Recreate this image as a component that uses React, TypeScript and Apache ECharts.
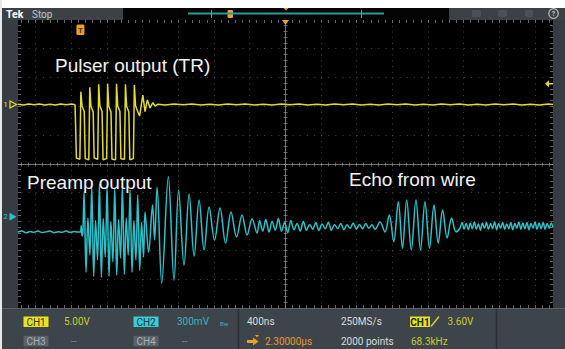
import React, { useEffect, useRef } from "react";
import * as echarts from "echarts";

// ---------------- scope settings ----------------
const nsPerDiv = 400;           // 400ns / div
const centerNs = 2300;          // horizontal position 2.30000 µs (trigger -> centre)
const screenStartNs = -700;
const screenEndNs = 5300;
const halfDivsY = 5;
const ch1VPerDiv = 5;           // CH1 5.00V
const ch1OffsetDiv = 2.066;
const ch2MvPerDiv = 300;        // CH2 300mV
const ch2OffsetDiv = -1.83;
const trigLevelV = 3.6;

// ---------------- CH1 (pulser), [time ns, volts] ----------------
const ch1Trace: [number, number][] = [
  [-700, 0.05], [-640, -0.1], [-580, 0.1], [-520, -0.05], [-460, 0.1], [-400, -0.1],
  [-340, 0.05], [-280, -0.1], [-220, 0.1], [-160, -0.05], [-100, 0.08], [-60, -0.05],
  [-54, 0], [-45, -9.3],
  [-6, -9.5], [5, 2.2], [18, -0.2], [43, -1.2], [54, -9.4],
  [94, -9.6], [105, 3.0], [118, -0.3], [143, -1.3], [154, -9.3],
  [194, -9.5], [205, 3.5], [218, -0.2], [243, -1.2], [254, -9.6],
  [294, -9.4], [305, 3.6], [318, -0.3], [343, -1.3], [354, -9.5],
  [394, -9.6], [405, 3.6], [418, -0.2], [443, -1.2], [454, -9.4],
  [494, -9.5], [505, 3.5], [518, -0.3], [543, -1.3], [554, -9.6],
  [594, -9.4], [605, 3.4], [618, -0.2], [643, -1.2],
  [664, -2.0], [700, 1.65], [725, -1.25], [751, 0.78], [781, -0.6], [812, 0.31], [837, -0.26], [871, 0.05],
  [950, -0.08], [1050, 0.1], [1150, -0.05], [1250, 0.08], [1350, -0.1], [1450, 0.05], [1550, -0.08],
  [1650, 0.1], [1750, -0.05], [1850, 0.08], [1950, -0.1], [2050, 0.06], [2150, -0.08], [2250, 0.1],
  [2350, -0.06], [2450, 0.08], [2550, -0.1], [2650, 0.05], [2750, -0.08], [2850, 0.1], [2950, -0.05],
  [3050, 0.08], [3150, -0.1], [3250, 0.06], [3350, -0.08], [3450, 0.1], [3550, -0.05], [3650, 0.08],
  [3750, -0.1], [3850, 0.05], [3950, -0.08], [4050, 0.1], [4150, -0.06], [4250, 0.08], [4350, -0.1],
  [4450, 0.05], [4550, -0.08], [4650, 0.1], [4750, -0.05], [4850, 0.08], [4950, -0.1], [5050, 0.06],
  [5150, -0.08], [5250, 0.1], [5300, 0],
];

// ---------------- CH2 (preamp), [time ns, mV] ----------------
const ch2Trace: [number, number][] = [
  [-700, -160], [-655, -150], [-610, -168], [-565, -155], [-520, -162], [-475, -150], [-430, -165],
  [-385, -158], [-340, -150], [-295, -166], [-250, -157], [-205, -162], [-160, -150], [-115, -163],
  [-70, -155], [-30, -160],
  [0, -160], [8, -95], [19, -200], [28, -150],
  [41, 258], [63, -578], [84, -14], [106, -400],
  [127, 321], [149, -620], [170, -40], [192, -450],
  [213, 342], [235, -630], [256, -20], [278, -420],
  [299, 321], [321, -620], [342, -50], [364, -470],
  [385, 300], [407, -609], [428, -30], [450, -430],
  [471, 321], [493, -599], [514, -14], [536, -400],
  [557, 279], [579, -578], [600, -40], [622, -450],
  [643, 227], [665, -557], [686, -60], [708, -420],
  [725, 49], [765, -369], [809, 122], [832, -243], [860, 310], [912, -693], [986, 415], [1050, -662],
  [1101, 279], [1162, -505], [1219, 237], [1275, -411], [1331, 175], [1387, -348], [1443, 101],
  [1504, -243], [1566, 91], [1628, -275], [1689, 49], [1751, -212], [1813, 18], [1869, -191],
  [1925, -24], [1981, -170],
  [2010, -40], [2045, -150], [2080, -30], [2115, -160], [2150, -50], [2185, -140], [2220, -20],
  [2255, -150], [2290, -60], [2325, -165], [2360, -40], [2395, -135], [2430, -70], [2465, -150],
  [2500, -50], [2535, -140], [2570, -80], [2605, -130], [2640, -60], [2675, -145], [2710, -75],
  [2745, -125], [2780, -60], [2815, -140], [2850, -80], [2885, -125], [2920, -70], [2955, -135],
  [2990, -85], [3025, -120], [3060, -65], [3095, -130], [3130, -80], [3165, -125], [3200, -70],
  [3235, -120], [3270, -85], [3305, -130],
  [3360, -55], [3416, -160], [3464, 18], [3514, -261], [3565, 157], [3612, -327], [3659, 175],
  [3711, -348], [3763, 175], [3814, -348], [3864, 157], [3915, -327], [3965, 122], [4013, -275],
  [4062, 70], [4113, -222], [4163, -14], [4212, -157],
  [4256, -120], [4280, -60], [4303, -130], [4326, -70], [4350, -135], [4372, -65], [4395, -125],
  [4418, -55], [4440, -130], [4463, -75], [4486, -140], [4508, -65], [4531, -120], [4554, -60],
  [4576, -130], [4600, -70], [4622, -125], [4645, -55], [4668, -135], [4690, -70], [4713, -120],
  [4736, -60], [4758, -130], [4781, -75], [4804, -125], [4826, -60], [4849, -135], [4872, -70],
  [4894, -120], [4917, -55], [4940, -130], [4962, -65], [4985, -125], [5008, -60], [5030, -135],
  [5053, -70], [5076, -120], [5098, -55], [5121, -130], [5144, -65], [5166, -125], [5189, -60],
  [5212, -130], [5234, -70], [5257, -120], [5280, -65], [5300, -110],
];

const CH1_COLOR = "#e2db2c";
const CH2_COLOR = "#2cc1c9";
const ORANGE = "#eea020";
const READ_FONT = '10px Roboto, "Open Sans", sans-serif';
const NOTE_FONT = '19px "Liberation Sans", Arial, sans-serif';

const crisp = (v: number) => Math.round(v - 0.5) + 0.5;

function renderGraticule(params: any, api: any) {
  const cs = params.coordSys;
  const left = cs.x, top = cs.y, right = cs.x + cs.width, bottom = cs.y + cs.height;
  const X = (t: number) => api.coord([t, 0])[0];
  const Y = (d: number) => api.coord([screenStartNs, d])[1];
  const minorNs = nsPerDiv / 5;
  const minorPxX = X(centerNs + minorNs) - X(centerNs);
  const minorPxY = Y(0) - Y(0.2);
  const cx = crisp(X(centerNs));
  const cy = crisp(Y(0));
  const ch: any[] = [];
  const ln = (x1: number, y1: number, x2: number, y2: number, style: any) =>
    ({ type: "line", shape: { x1, y1, x2, y2 }, style, silent: true });
  const dotV = { stroke: "rgba(130,130,130,0.5)", lineWidth: 1, lineDash: [1, minorPxY - 1] };
  const dotH = { stroke: "rgba(130,130,130,0.5)", lineWidth: 1, lineDash: [1, minorPxX - 1] };
  const solid = { stroke: "rgba(160,160,160,0.7)", lineWidth: 1 };
  const tick = { stroke: "rgba(150,150,150,0.65)", lineWidth: 1 };
  for (let k = -7; k <= 7; k++) {
    if (k === 0) continue;
    const x = crisp(X(centerNs + k * nsPerDiv));
    ch.push(ln(x, top, x, bottom, dotV));
  }
  for (let k = -4; k <= 4; k++) {
    if (k === 0) continue;
    const y = crisp(Y(k));
    ch.push(ln(X(centerNs - 37 * minorNs), y, right, y, dotH));
  }
  ch.push(ln(cx, top, cx, bottom, solid));
  ch.push(ln(left, cy, right, cy, solid));
  for (let m = -37; m <= 37; m++) {
    const x = crisp(X(centerNs + m * minorNs));
    ch.push(ln(x, cy - 2, x, cy + 2, tick));
    ch.push(ln(x, top, x, top + 3, tick));
    ch.push(ln(x, bottom - 3, x, bottom, tick));
  }
  for (let m = -24; m <= 24; m++) {
    const y = crisp(Y(m * 0.2));
    ch.push(ln(cx - 2, y, cx + 2, y, tick));
    ch.push(ln(left, y, left + 3, y, tick));
    ch.push(ln(right - 3, y, right, y, tick));
  }
  return { type: "group", children: ch };
}

function renderMarkers(params: any, api: any) {
  const cs = params.coordSys;
  const top = cs.y, right = cs.x + cs.width;
  const X = (t: number) => api.coord([t, 0])[0];
  const Y = (d: number) => api.coord([screenStartNs, d])[1];
  const y1 = Y(ch1OffsetDiv);
  const y2 = Y(ch2OffsetDiv);
  const yt = Y(ch1OffsetDiv + trigLevelV / ch1VPerDiv);
  const xt = X(0);
  const xc = X(centerNs);
  const ch: any[] = [
    { type: "text", style: { text: "1", x: 5.5, y: y1, fill: CH1_COLOR, font: "8px Roboto, sans-serif", align: "center", verticalAlign: "middle", textAlign: "center", textVerticalAlign: "middle" } },
    { type: "polygon", shape: { points: [[10, y1 - 3.5], [16.5, y1], [10, y1 + 3.5]] }, style: { fill: "none", stroke: CH1_COLOR, lineWidth: 1.2 } },
    { type: "text", style: { text: "2", x: 5.5, y: y2, fill: CH2_COLOR, font: "8px Roboto, sans-serif", align: "center", verticalAlign: "middle", textAlign: "center", textVerticalAlign: "middle" } },
    { type: "polygon", shape: { points: [[9.5, y2 - 4], [16.5, y2], [9.5, y2 + 4]] }, style: { fill: CH2_COLOR } },
    { type: "polygon", shape: { points: [[right - 8, yt], [right - 4, yt - 3.5], [right - 4, yt + 3.5]] }, style: { fill: CH1_COLOR } },
    { type: "line", shape: { x1: right - 4, y1: yt, x2: right, y2: yt }, style: { stroke: CH1_COLOR, lineWidth: 1.5 } },
    { type: "rect", shape: { x: xt - 4, y: top + 4.5, width: 8, height: 10.5, r: 1.5 }, style: { fill: ORANGE } },
    { type: "text", style: { text: "T", x: xt, y: top + 10, fill: "#4a2c00", font: "bold 8px Roboto, sans-serif", align: "center", verticalAlign: "middle", textAlign: "center", textVerticalAlign: "middle" } },
    { type: "polygon", shape: { points: [[xc - 3.5, top], [xc + 3.5, top], [xc, top + 5]] }, style: { fill: ORANGE } },
  ];
  return { type: "group", children: ch };
}

const txt = (x: number, y: number, text: string, fill: string, font = READ_FONT, align = "left") => ({
  type: "text", x, y, z: 100, silent: true,
  style: { text, fill, font, align, textAlign: align, verticalAlign: "middle", textVerticalAlign: "middle" },
});
const rect = (x: number, y: number, w: number, h: number, fill: string, r = 0) => ({
  type: "rect", z: 99, silent: true, shape: { x, y, width: w, height: h, r }, style: { fill },
});
const seg = (x1: number, y1: number, x2: number, y2: number, stroke: string, lineWidth = 1) => ({
  type: "line", z: 100, silent: true, shape: { x1, y1, x2, y2 }, style: { stroke, lineWidth },
});
const badge = (x: number, y: number, w: number, label: string, bg: string, fg: string, font = READ_FONT) => [
  rect(x, y, w, 10.5, bg),
  txt(x + w / 2, y + 5.5, label, fg, font, "center"),
];

const ROW1 = 321.7;
const ROW2 = 341;

const graphics: any[] = [
  rect(0, 0, 565, 8, "#ffffff"),
  rect(0, 0, 2, 349, "#e6e8ea"),
  rect(2, 8, 563, 12, "#3c4146"),
  txt(6, 14, "Tek", "#ffffff", 'bold 10.5px Roboto, sans-serif'),
  txt(32, 14, "Stop", "#c3c7ca", '10px Roboto, sans-serif'),
  rect(123, 8, 326, 12, "#040404"),
  seg(188, 13.5, 384, 13.5, "#2a9c97", 2),
  seg(211.5, 10, 211.5, 18, "#8e8e8e"),
  seg(361.5, 10, 361.5, 18, "#8e8e8e"),
  rect(227.5, 10, 5.5, 8, ORANGE, 1),
  { type: "polygon", z: 100, silent: true, shape: { points: [[283.5, 8], [288.5, 8], [286, 10.5]] }, style: { fill: ORANGE } },
  rect(472, 10, 9, 7, "#4b5157", 1),
  rect(498, 10, 9, 7, "#4b5157", 1),
  rect(525, 10, 8, 7, "#4b5157", 1),
  { type: "circle", z: 100, silent: true, shape: { cx: 553.5, cy: 13.5, r: 4.8 }, style: { fill: "none", stroke: "#b9bdc0", lineWidth: 1.2 } },
  txt(553.5, 13.8, "?", "#b9bdc0", 'bold 7px Roboto, sans-serif', "center"),
  // bottom readout bar
  rect(2, 308, 563, 41, "#3d444a"),
  seg(2, 308.5, 565, 308.5, "#59616a"),
  seg(238.5, 309, 238.5, 349, "#2a2f34", 1.5),
  seg(496.5, 309, 496.5, 349, "#2a2f34", 1.5),
  ...badge(23.5, 316.5, 25, "CH1", "#e6e41e", "#3a3800"),
  txt(64, ROW1, "5.00V", "#c9cb2e"),
  ...badge(133.5, 316.5, 25, "CH2", "#3ccad5", "#0c3a40"),
  txt(177, ROW1, "300mV", "#35b6c1"),
  txt(220, ROW1 + 1.5, "Bw", "#35b6c1", '6px Roboto, sans-serif'),
  ...badge(23.5, 335.8, 25, "CH3", "#59626a", "#a8afb4"),
  txt(71, ROW2, "--", "#7d868c"),
  ...badge(133.5, 335.8, 25, "CH4", "#59626a", "#a8afb4"),
  txt(182, ROW2, "--", "#7d868c"),
  txt(247, ROW1, "400ns", "#dcdcdc"),
  rect(247, 340, 6.5, 3, ORANGE),
  { type: "polygon", z: 100, silent: true, shape: { points: [[253, 337.5], [258.5, 341.5], [253, 345.5]] }, style: { fill: ORANGE } },
  { type: "polygon", z: 100, silent: true, shape: { points: [[255, 335], [259, 335], [257, 337.5]] }, style: { fill: ORANGE } },
  txt(265, ROW2, "2.30000µs", "#e89a2c"),
  txt(341, ROW1, "250MS/s", "#dcdcdc"),
  txt(341, ROW2, "2000 points", "#dcdcdc"),
  ...badge(410, 316.5, 20, "CH1", "#e6e41e", "#2a2800", 'bold 10px Roboto, sans-serif'),
  seg(431, 326.5, 439, 316.5, "#d6d42a", 1.4),
  txt(447.5, ROW1, "3.60V", "#c9cb2e"),
  txt(411, ROW2, "68.3kHz", "#c9cb2e"),
  // annotations
  txt(55, 65.5, "Pulser output (TR)", "#f2f2f2", NOTE_FONT),
  txt(27, 182.5, "Preamp output", "#f2f2f2", NOTE_FONT),
  txt(349, 179.3, "Echo from wire", "#f2f2f2", NOTE_FONT),
];

const ch1Data = ch1Trace.map(([t, v]) => [t, v / ch1VPerDiv + ch1OffsetDiv]);
const ch2Data = ch2Trace.map(([t, mv]) => [t, mv / ch2MvPerDiv + ch2OffsetDiv]);

const option: any = {
  animation: false,
  backgroundColor: "#363c42",
  grid: { left: 18, right: 12, top: 20, bottom: 41, show: true, backgroundColor: "#000000", borderWidth: 0 },
  xAxis: { type: "value", min: screenStartNs, max: screenEndNs, show: false },
  yAxis: { type: "value", min: -halfDivsY, max: halfDivsY, show: false },
  series: [
    { type: "custom", renderItem: renderGraticule, data: [[centerNs, 0]], clip: false, silent: true, z: 1 },
    { type: "line", data: ch2Data, showSymbol: false, silent: true, z: 3, smooth: 0.35, lineStyle: { color: CH2_COLOR, width: 1.5 } },
    { type: "line", data: ch1Data, showSymbol: false, silent: true, z: 4, lineStyle: { color: CH1_COLOR, width: 1.5 } },
    { type: "custom", renderItem: renderMarkers, data: [[0, 0]], clip: false, silent: true, z: 5 },
  ],
  graphic: graphics,
};

export default function App() {
  const ref = useRef<HTMLDivElement>(null);
  useEffect(() => {
    const chart = echarts.init(ref.current as HTMLDivElement, null, { renderer: "svg" });
    chart.setOption(option);
    return () => chart.dispose();
  }, []);
  return <div ref={ref} style={{ position: "fixed", left: 0, top: 0, width: 565, height: 349 }} />;
}
